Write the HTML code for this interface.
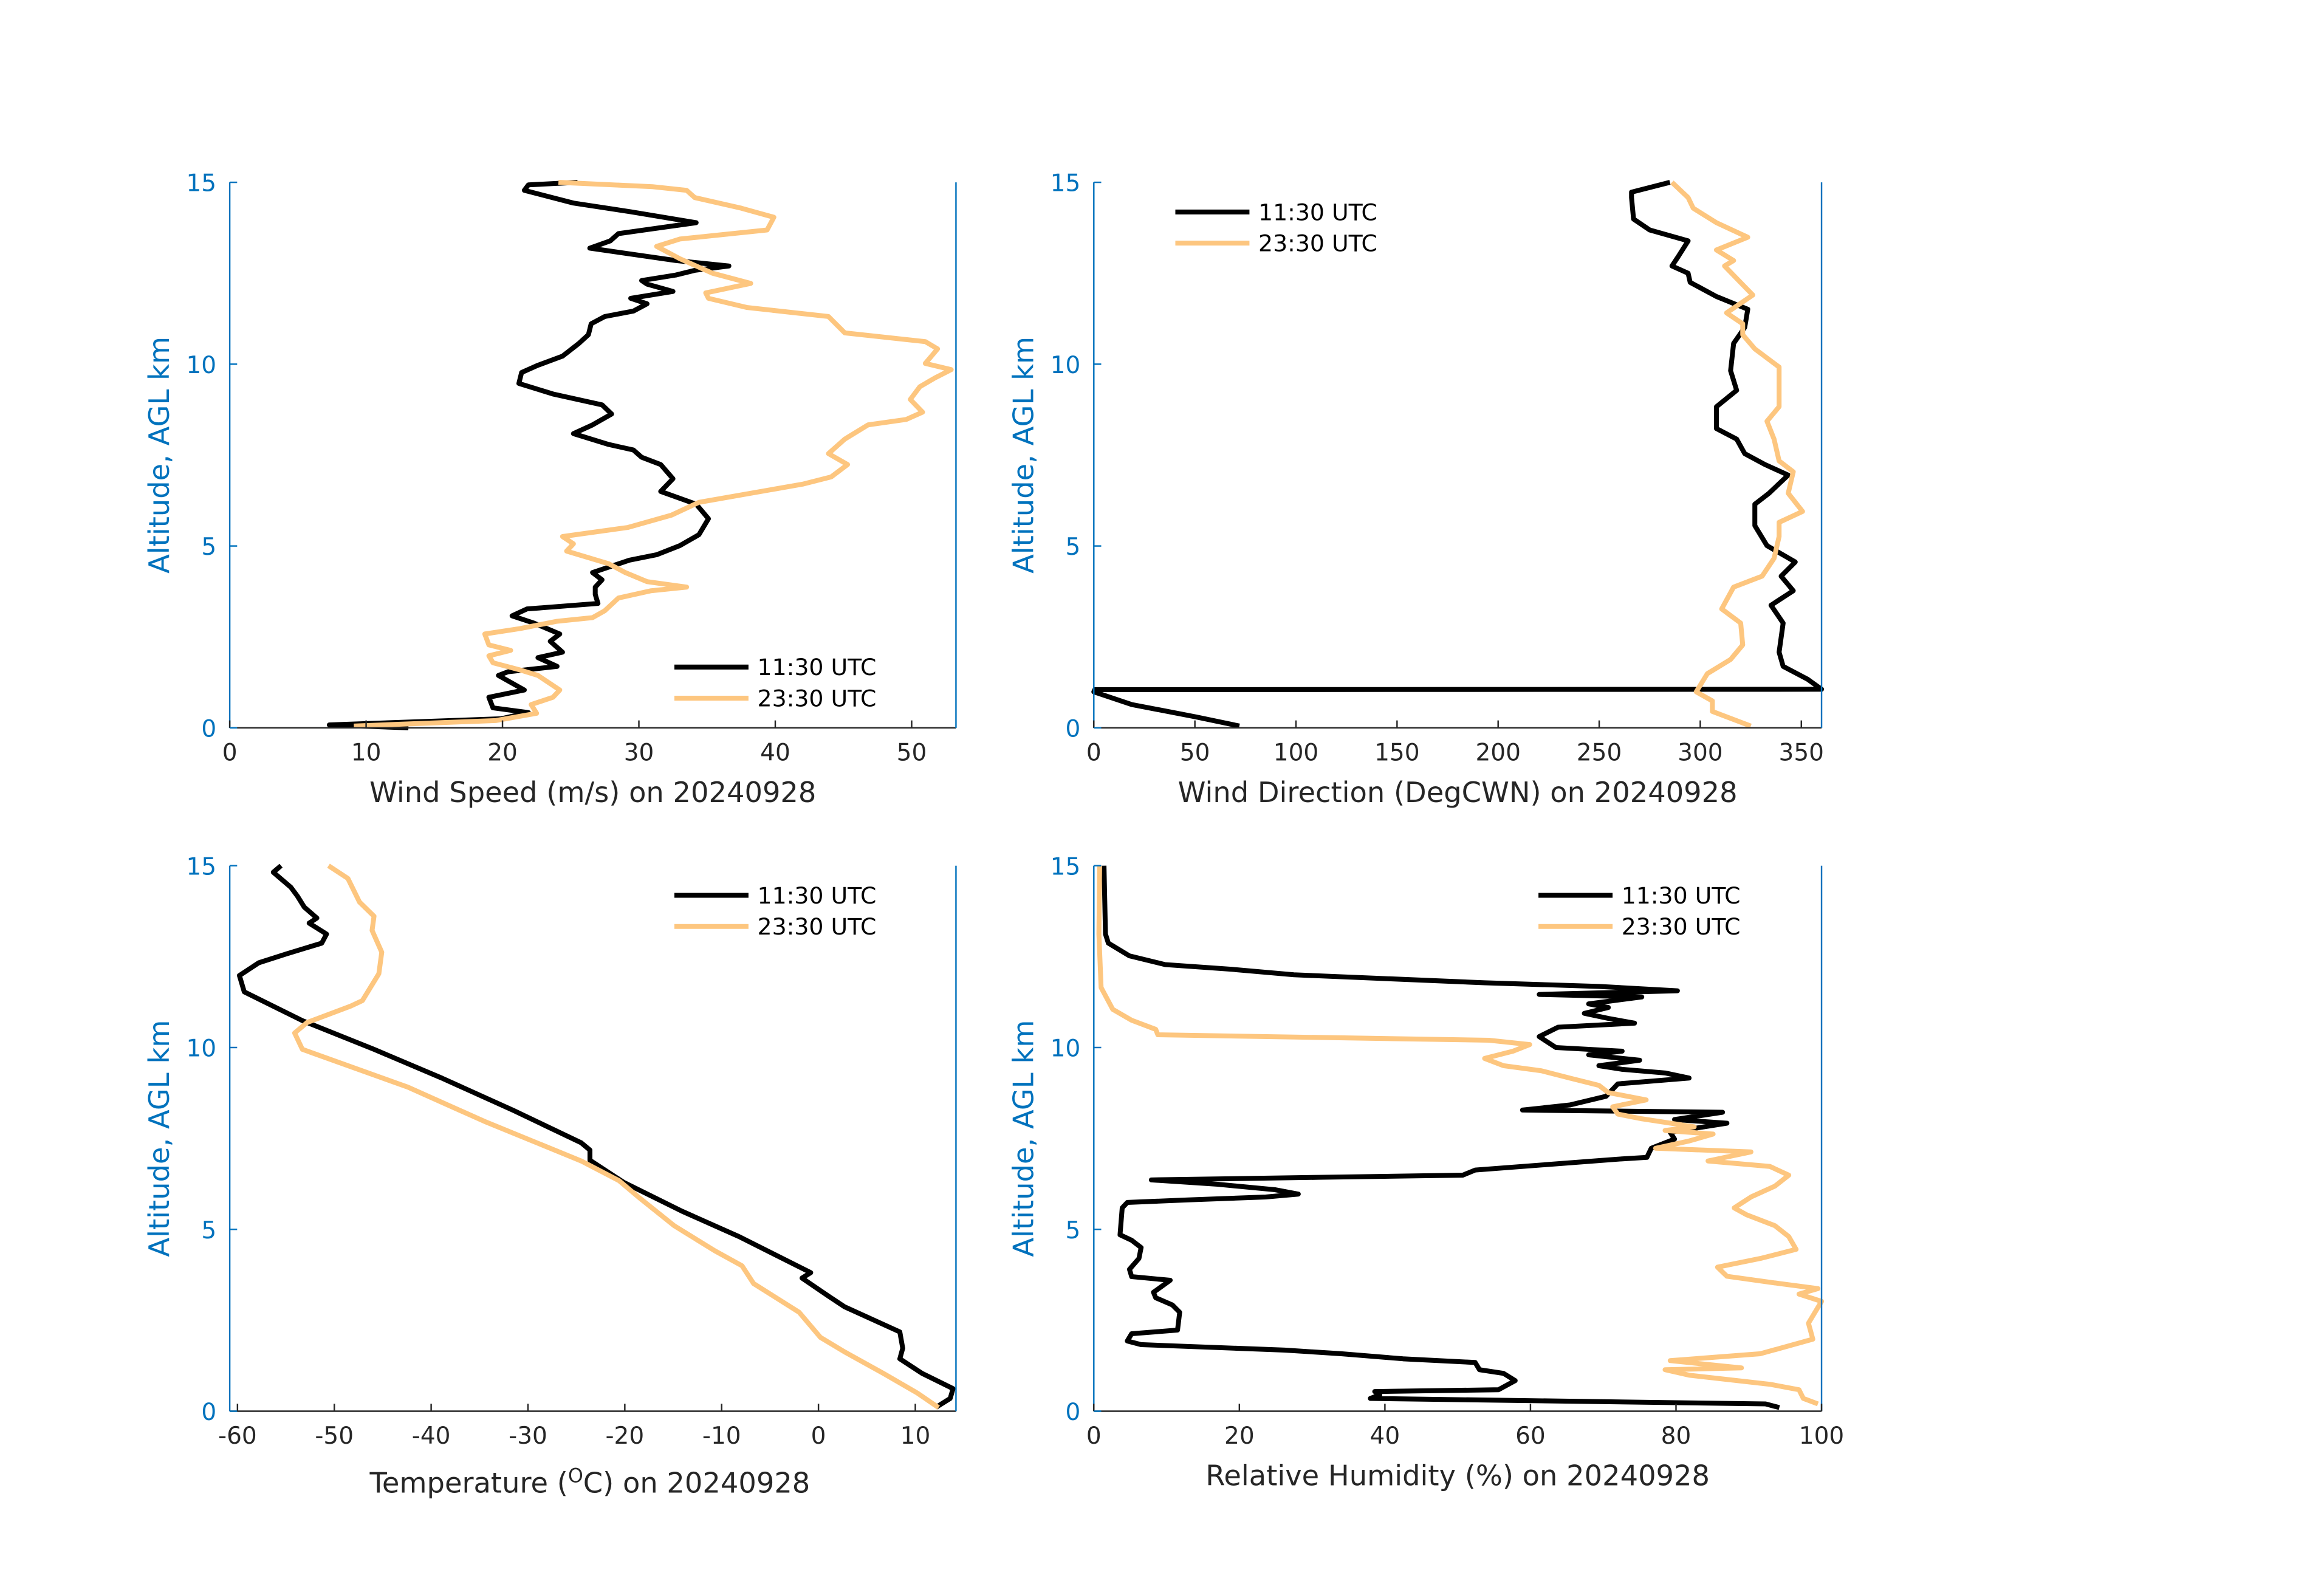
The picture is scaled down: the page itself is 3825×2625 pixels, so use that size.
<!DOCTYPE html>
<html><head><meta charset="utf-8"><style>
html,body{margin:0;padding:0;background:#fff;}
svg{display:block;}
text{font-family:"DejaVu Sans","Liberation Sans",sans-serif;}
</style></head><body>
<svg id="fig" width="3825" height="2625" viewBox="0 0 1568 1076" preserveAspectRatio="none" xmlns="http://www.w3.org/2000/svg">
<rect x="0" y="0" width="1568" height="1076" fill="#fff"/>
</svg>
<script>
// ---- data (altitude km, value) ----
const wsBlackAlt=[0,0.08,0.25,0.42,0.55,0.84,1.04,1.44,1.54,1.69,1.93,2.08,2.38,2.58,2.88,3.08,3.27,3.42,3.67,3.87,4.07,4.27,4.61,4.76,5.01,5.31,5.75,6.15,6.5,6.85,7.24,7.44,7.64,7.79,8.09,8.33,8.63,8.88,9.18,9.47,9.77,9.97,10.22,10.57,10.81,11.11,11.31,11.46,11.66,11.81,12.0,12.2,12.3,12.45,12.58,12.7,12.85,13.19,13.39,13.59,13.89,14.19,14.43,14.78,14.93,15.0];
const wsBlack=[13.1,7.3,19.9,21.9,19.3,19.0,21.6,19.7,20.4,24.0,22.6,24.4,23.5,24.2,22.3,20.7,21.8,27.0,26.8,26.8,27.3,26.6,29.3,31.3,33.0,34.4,35.1,34.2,31.6,32.5,31.6,30.2,29.6,27.8,25.2,26.6,28.0,27.3,23.7,21.2,21.4,22.6,24.4,25.6,26.3,26.5,27.5,29.6,30.6,29.4,32.5,30.6,30.2,32.7,34.1,36.6,32.7,26.4,27.9,28.5,34.2,29.4,25.2,21.6,21.9,25.5];
const wsOrangeAlt=[0.05,0.2,0.4,0.64,0.84,1.04,1.44,1.59,1.79,1.98,2.13,2.28,2.58,2.73,2.93,3.03,3.22,3.57,3.77,3.87,4.02,4.27,4.51,4.86,5.06,5.26,5.51,5.85,6.2,6.7,6.9,7.24,7.54,7.94,8.33,8.48,8.68,9.03,9.38,9.62,9.85,10.02,10.42,10.62,10.86,11.31,11.56,11.81,11.96,12.22,12.5,12.9,13.24,13.44,13.69,14.04,14.29,14.58,14.78,14.88,15.0];
const wsOrange=[9.1,19.5,22.5,22.1,23.7,24.2,22.6,21.3,19.3,19.0,20.6,19.0,18.7,21.3,24.0,26.6,27.5,28.5,30.9,33.5,30.6,29.0,27.8,24.7,25.2,24.4,29.2,32.4,34.4,42.0,44.1,45.3,43.9,45.1,46.8,49.6,50.8,49.9,50.6,51.7,52.9,51.0,51.9,51.0,45.1,43.9,37.9,35.1,34.9,38.2,35.4,33.0,31.3,33.0,39.4,39.9,37.5,34.1,33.5,31.0,24.1];

const wdBlackAlt=[0.05,0.3,0.64,0.99,1.05,1.06,1.34,1.69,2.08,2.88,3.37,3.77,4.17,4.56,5.01,5.56,6.15,6.45,6.95,7.24,7.54,7.94,8.23,8.83,9.28,9.82,10.57,11.01,11.51,11.86,12.25,12.5,12.7,12.95,13.39,13.69,13.99,14.58,14.73,15.0];
const wdBlack=[72,50.6,18.8,0,0.5,360,353,341,339,341,335,346,340,347,333,327,327,334,343.5,332,322,318,308,308,318,315,316.5,322,323.5,308,295,294,286,289,294,275,267,266,266,285];
const wdOrangeAlt=[0.05,0.45,0.74,0.99,1.49,1.88,2.28,2.88,3.27,3.87,4.17,4.66,5.26,5.65,5.95,6.45,7.04,7.34,7.94,8.43,8.83,9.92,10.42,10.81,11.11,11.41,11.9,12.3,12.7,12.85,13.14,13.49,13.89,14.29,14.58,15.0];
const wdOrange=[325,306,306,298,303.5,315,321,320,310.6,316.5,330.6,336.5,339,339,350.6,343.5,346,339,336.5,333,339,339,327,321,321,313,326,319,312,316.5,308,323.5,308,296.5,294,286];

const tBlackAlt=[0.1,0.35,0.62,1.04,1.44,1.73,2.18,2.87,3.17,3.66,3.81,4.8,5.5,6.29,6.9,7.18,7.38,8.27,9.16,9.95,10.74,11.53,11.98,12.33,12.57,12.87,13.12,13.42,13.56,13.86,14.16,14.41,14.82,15.0];
const tBlack=[12.1,13.6,13.9,10.7,8.4,8.7,8.4,2.7,1.0,-1.7,-0.8,-8.2,-14.1,-20.1,-23.6,-23.6,-24.5,-31.5,-38.9,-45.9,-53.3,-59.3,-59.8,-57.8,-55.0,-51.3,-50.8,-52.6,-51.8,-53.1,-53.8,-54.5,-56.3,-55.5];
const tOrangeAlt=[0.1,0.5,1.04,1.63,2.03,2.72,3.51,4.0,4.41,5.1,5.89,6.34,6.88,7.97,8.91,9.95,10.4,10.69,11.14,11.29,12.03,12.62,13.22,13.61,14.0,14.65,15.0];
const tOrange=[12.4,10.2,6.7,2.7,0.2,-2.0,-6.7,-7.9,-10.7,-14.9,-18.6,-20.6,-24.5,-34.5,-42.4,-53.3,-54.1,-52.8,-48.3,-47.1,-45.4,-45.1,-46.1,-45.9,-47.4,-48.6,-50.6];

const rhBlackAlt=[0.1,0.2,0.35,0.45,0.54,0.59,0.84,1.04,1.14,1.34,1.44,1.58,1.68,1.83,1.93,2.13,2.23,2.72,2.92,3.12,3.27,3.6,3.7,3.9,4.2,4.5,4.7,4.85,5.59,5.74,5.81,5.89,5.97,6.09,6.24,6.36,6.43,6.49,6.63,6.93,6.98,7.23,7.48,7.67,7.92,8.02,8.22,8.28,8.42,8.66,9.0,9.16,9.3,9.4,9.5,9.65,9.8,9.9,10.0,10.3,10.56,10.67,10.8,10.94,11.1,11.2,11.39,11.46,11.56,11.68,11.78,12.0,12.15,12.28,12.52,12.87,13.12,15.0];
const rhBlack=[94.2,92.3,38,39.3,38.6,55.6,57.9,56.3,53,52.4,42.5,34,26.2,6.5,4.6,5.2,11.5,11.8,10.8,8.5,8.2,10.5,5.2,4.9,6.2,6.5,5.2,3.6,3.9,4.6,13,23.6,28.1,24.9,17,7.9,30.8,50.7,52.4,72,76,76.6,79.8,79.2,87,79.8,86.4,58.9,65.4,70.4,72,81.8,78.5,72.6,69.4,75,68,72.6,63.5,61.2,63.8,74.3,70.7,67.4,70.7,68,75.3,61.2,80.2,69.4,53.7,27.5,19,9.8,4.9,2.0,1.6,1.4];
const rhOrangeAlt=[0.2,0.35,0.59,0.74,0.99,1.14,1.19,1.39,1.58,1.98,2.42,3.02,3.22,3.37,3.51,3.71,3.96,4.2,4.45,4.8,5.1,5.4,5.59,5.89,6.19,6.49,6.73,6.88,7.13,7.23,7.43,7.62,7.72,7.82,8.04,8.17,8.37,8.56,8.76,8.96,9.16,9.36,9.5,9.7,9.9,10.08,10.2,10.35,10.5,10.75,11.05,11.65,13.12,15.0];
const rhOrange=[99.5,97.5,96.9,92.9,81.8,78.5,89,79.2,91.6,98.8,98.2,100,96.9,99.5,94.2,87,85.7,91.6,96.5,95.5,93.6,89.7,88,90.3,93.6,95.5,92.9,84.4,90.3,77.2,81.8,85.1,78.5,82.5,75.3,72,71.3,75.9,70.7,69.4,65.4,61.5,56.3,53.7,57.6,59.9,54.3,8.8,8.5,5.2,2.6,1.0,0.7,0.8];

const altTicks=[0,5,10,15];
const wsTicks=[0,10,20,30,40,50];
const wdTicks=[0,50,100,150,200,250,300,350];
const tTicks=[-60,-50,-40,-30,-20,-10,0,10];
const rhTicks=[0,20,40,60,80,100];
const seriesLabels=["11:30 UTC","23:30 UTC"];

const NS="http://www.w3.org/2000/svg";
const svg=document.getElementById('fig');
const BLUE="#0072BD", ORANGE="#FDC67F", GRAY="#262626";
function mk(tag,attrs,parent){const e=document.createElementNS(NS,tag);for(const k in attrs)e.setAttribute(k,attrs[k]);(parent||svg).appendChild(e);return e;}

function panel(cfg){
  const g=mk('g',{});
  
  
  const {L,R,T,B,xmin,xmax}=cfg;
  const sx=v=>L+(v-xmin)/(xmax-xmin)*(R-L);
  const sy=a=>B-a/15*(B-T);
  cfg.series.forEach((s,i)=>{
    let d='';
    for(let k=0;k<s.alt.length;k++){d+=(k?'L':'M')+sx(s.val[k]).toFixed(2)+','+sy(s.alt[k]).toFixed(2);}
    const p=mk('path',{d:d,fill:'none',stroke:i?ORANGE:'#000','stroke-width':3.3,'stroke-linejoin':'round'},g);
    
    
  });
  const xa=mk('line',{x1:L,y1:B,x2:R,y2:B,stroke:GRAY,'stroke-width':1},g);
  
  
  const ya=mk('line',{x1:L,y1:T,x2:L,y2:B,stroke:BLUE,'stroke-width':1},g);
  
  
  const ra=mk('line',{x1:R,y1:T,x2:R,y2:B,stroke:BLUE,'stroke-width':1},g);
  
  
  cfg.xticks.forEach(v=>{
    const x=sx(v);
    mk('line',{x1:x,y1:B,x2:x,y2:B-5,stroke:GRAY,'stroke-width':1},g);
    const t=mk('text',{x:x,y:B+22,'font-size':16,fill:GRAY,'text-anchor':'middle'},g);
    t.textContent=v;
    
    
  });
  altTicks.forEach(a=>{
    const y=sy(a);
    mk('line',{x1:L,y1:y,x2:L+5,y2:y,stroke:BLUE,'stroke-width':1},g);
    const t=mk('text',{x:L-9,y:y+6,'font-size':16,fill:BLUE,'text-anchor':'end'},g);
    t.textContent=a;
    
    
  });
  const yl=mk('text',{x:0,y:0,'font-size':19,fill:BLUE,'text-anchor':'middle',transform:`translate(${L-41},${(T+B)/2}) rotate(-90)`},g);
  yl.textContent='Altitude, AGL km';
  
  
  const xl=mk('text',{x:(L+R)/2-(cfg.xlShift||0),y:cfg.xlY,'font-size':19,fill:GRAY,'text-anchor':'middle'},g);
  xl.innerHTML=cfg.xlabel;
  
  
  const lg=mk('g',{},g);
  
  
  seriesLabels.forEach((lab,i)=>{
    const y=cfg.legY+i*21;
    mk('line',{x1:cfg.legX,y1:y,x2:cfg.legX+50,y2:y,stroke:i?ORANGE:'#000','stroke-width':3.3},lg);
    const t=mk('text',{x:cfg.legX+56,y:y+5.5,'font-size':15.5,fill:'#000'},lg);
    t.textContent=lab;
    
    
  });
}

panel({name:'wind-speed-panel',L:155,R:645,T:123,B:491,xmin:0,xmax:53.25,xticks:wsTicks,
  series:[{alt:wsBlackAlt,val:wsBlack},{alt:wsOrangeAlt,val:wsOrange}],
  xlabel:'Wind Speed (m/s) on 20240928',xlY:541,legX:455,legY:450});
panel({name:'wind-direction-panel',L:738,R:1229,T:123,B:491,xmin:0,xmax:360,xticks:wdTicks,
  series:[{alt:wdBlackAlt,val:wdBlack},{alt:wdOrangeAlt,val:wdOrange}],
  xlabel:'Wind Direction (DegCWN) on 20240928',xlY:541,legX:793,legY:143});
panel({name:'temperature-panel',L:155,R:645,T:584,B:952,xmin:-60.8,xmax:14.2,xticks:tTicks,
  series:[{alt:tBlackAlt,val:tBlack},{alt:tOrangeAlt,val:tOrange}],
  xlabel:'Temperature (<tspan font-size="13" dy="-7">O</tspan><tspan dy="7">C) on 20240928</tspan>',xlY:1007,xlShift:2,legX:455,legY:604});
panel({name:'relative-humidity-panel',L:738,R:1229,T:584,B:952,xmin:0,xmax:100,xticks:rhTicks,
  series:[{alt:rhBlackAlt,val:rhBlack},{alt:rhOrangeAlt,val:rhOrange}],
  xlabel:'Relative Humidity (%) on 20240928',xlY:1002,legX:1038,legY:604});
</script>
</body></html>
